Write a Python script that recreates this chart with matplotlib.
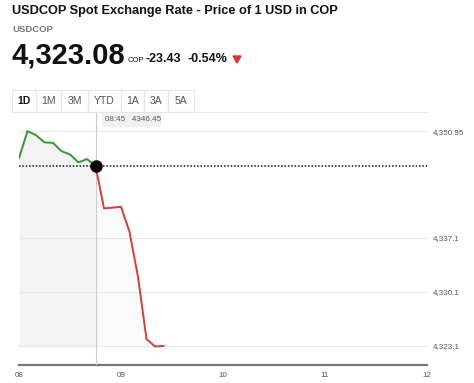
import matplotlib.pyplot as plt
from matplotlib.patches import Rectangle, Polygon

# --- data -------------------------------------------------------------
times = ["08:00", "08:05", "08:10", "08:15", "08:20", "08:25", "08:30",
         "08:35", "08:40", "08:45", "08:50", "08:55", "09:00", "09:05",
         "09:10", "09:15", "09:20", "09:25"]
prices = [4347.44, 4350.95, 4350.43, 4349.48, 4349.43, 4348.35, 4347.92,
          4346.89, 4347.32, 4346.45, 4340.92, 4341.02, 4341.13, 4337.89,
          4332.05, 4323.97, 4323.00, 4323.08]
split_idx = 9  # 08:45, crosshair point
y_ticks = [4323.1, 4330.1, 4337.1, 4350.95]
y_tick_labels = ["4,323.1", "4,330.1", "4,337.1", "4,350.95"]
x_ticks = [8, 9, 10, 11, 12]
x_tick_labels = ["08", "09", "10", "11", "12"]
tabs = ["1D", "1M", "3M", "YTD", "1A", "3A", "5A"]

title = "USDCOP Spot Exchange Rate - Price of 1 USD in COP"
ticker = "USDCOP"
last_price = "4,323.08"
change = "-23.43"
change_pct = "-0.54%"

hours = [int(t[:2]) + int(t[3:]) / 60 for t in times]

W, H = 474, 383
fig = plt.figure(figsize=(W / 100, H / 100), dpi=100)
plt.rcParams['font.family'] = ['Liberation Sans', 'DejaVu Sans']


def fx(px):
    return px / W


def fy(py):
    return 1 - py / H


# --- header -----------------------------------------------------------
fig.text(fx(12), fy(11), title, fontsize=9.2, fontweight='bold',
         color='#111111', va='center', ha='left')
fig.text(fx(12), fy(29), ticker, fontsize=6.8, fontweight='bold',
         color='#777777', va='center', ha='left')
fig.text(fx(11), fy(56), last_price, fontsize=21, fontweight='bold',
         color='#111111', va='center', ha='left')
fig.text(fx(128), fy(60), "COP", fontsize=5.5, color='#111111',
         va='center', ha='left')
fig.text(fx(146), fy(59), change, fontsize=9, fontweight='bold',
         color='#111111', va='center', ha='left')
fig.text(fx(188), fy(59), change_pct, fontsize=9, fontweight='bold',
         color='#111111', va='center', ha='left')
tri = Polygon([[fx(233), fy(56)], [fx(241), fy(56)], [fx(237), fy(63)]],
              closed=True, transform=fig.transFigure, color='#e03131')
fig.patches.append(tri)

# --- tabs -------------------------------------------------------------
tab_edges = [12, 36, 61, 88, 121, 144, 168, 194]
for i, lab in enumerate(tabs):
    x0, x1 = tab_edges[i], tab_edges[i + 1]
    fig.patches.append(Rectangle((fx(x0), fy(112)), fx(x1 - x0), (112 - 90) / H,
                                 transform=fig.transFigure, fill=False,
                                 edgecolor='#e6e6e6', linewidth=0.8))
    fig.text(fx((x0 + x1) / 2), fy(101), lab, fontsize=7.5,
             fontweight='bold' if i == 0 else 'normal',
             color='#111111' if i == 0 else '#555555', ha='center', va='center')
fig.lines.append(plt.Line2D([fx(12), fx(427)], [fy(112), fy(112)],
                            transform=fig.transFigure, color='#e6e6e6', lw=0.8))

# --- chart ------------------------------------------------------------
ax = fig.add_axes([fx(19), fy(365), fx(408), (365 - 113) / H])
ax.set_xlim(8, 12)
ax.set_ylim(4320.6, 4353.3)

base = min(prices)
ax.fill_between(hours[:split_idx + 1], prices[:split_idx + 1], base,
                color='#f3f3f3', lw=0, zorder=1)
ax.fill_between(hours[split_idx:], prices[split_idx:], base,
                color='#fafafa', lw=0, zorder=1)
for yt in y_ticks:
    ax.axhline(yt, color='#e8e8e8', lw=0.8, zorder=2)

ax.plot(hours[:split_idx + 1], prices[:split_idx + 1], color='#2f9a2f',
        lw=1.4, zorder=4)
ax.plot(hours[split_idx:], prices[split_idx:], color='#d93a3a', lw=1.4, zorder=4)

# crosshair
ax.axvline(hours[split_idx], color='#cccccc', lw=0.8, zorder=3)
ax.axhline(prices[split_idx], color='#111111', lw=1.1, ls=(0, (1, 1.2)), zorder=3)
ax.plot(hours[split_idx], prices[split_idx], 'o', color='black', ms=8, zorder=5)
fig.patches.append(Rectangle((fx(102), fy(126)), fx(58), 13 / H,
                             transform=fig.transFigure, color='#f0f0f0'))
fig.text(fx(105), fy(119.5), f"{times[split_idx]}   {prices[split_idx]:.2f}",
         fontsize=5.8, color='#555555', ha='left', va='center')

for s in ['top', 'right', 'left']:
    ax.spines[s].set_visible(False)
ax.spines['bottom'].set_color('#777777')
ax.spines['bottom'].set_linewidth(1.6)
ax.set_xticks(x_ticks)
ax.set_xticklabels(x_tick_labels, fontsize=5.8, color='#555555')
ax.tick_params(axis='x', length=0, pad=5)
ax.yaxis.tick_right()
ax.set_yticks(y_ticks)
ax.set_yticklabels(y_tick_labels, fontsize=5.8, color='#555555')
ax.tick_params(axis='y', length=0, pad=4)
ax.patch.set_alpha(0)

fig.savefig('out.png', dpi=100)
